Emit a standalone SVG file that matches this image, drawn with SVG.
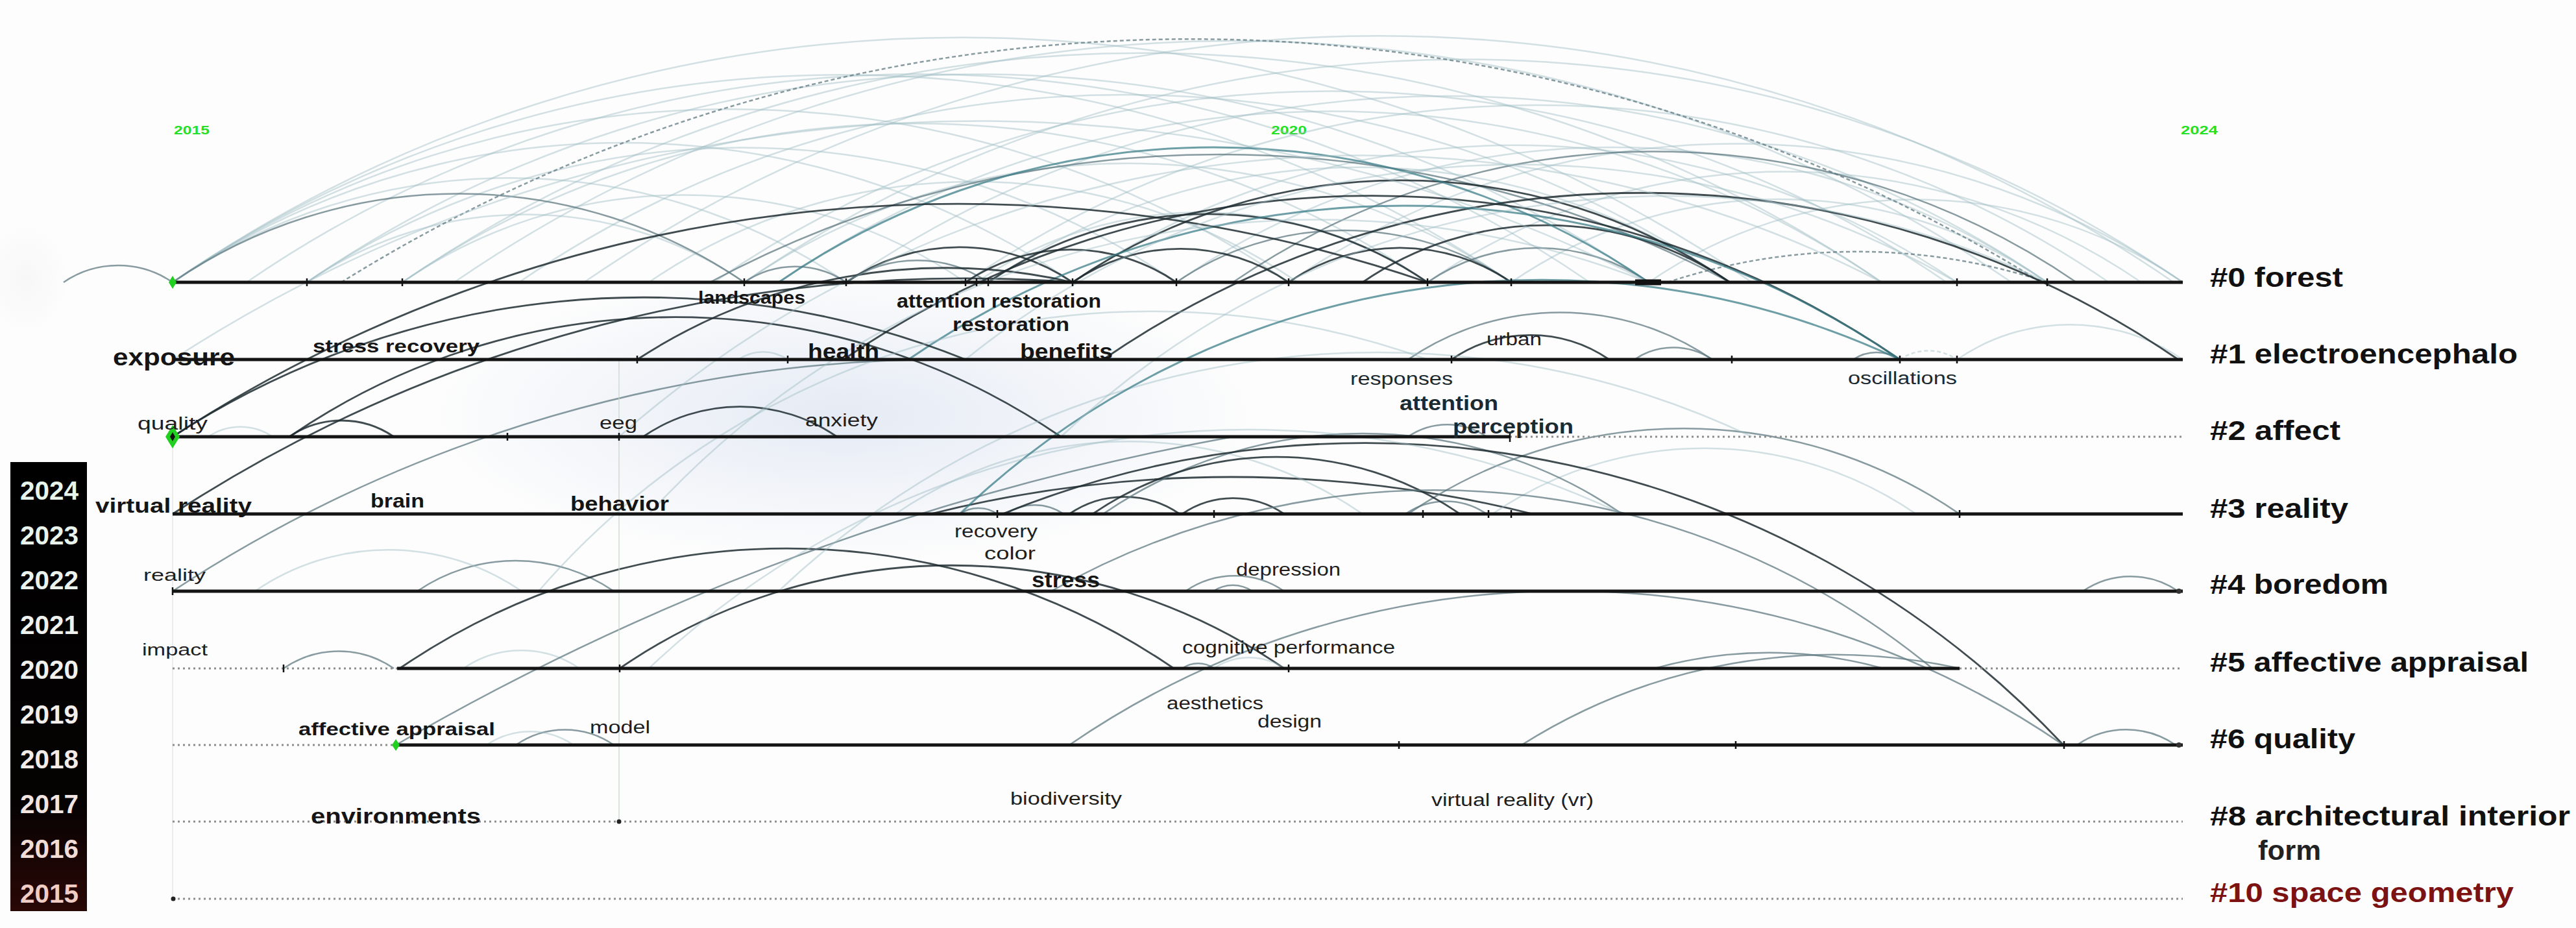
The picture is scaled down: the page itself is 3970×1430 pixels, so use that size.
<svg xmlns="http://www.w3.org/2000/svg" width="3970" height="1430" viewBox="0 0 3970 1430">
<defs>
<style>
text{font-family:"Liberation Sans",Arial,sans-serif}
.ln{stroke:#141414;stroke-width:5;fill:none}
.dt{stroke:#8e8e8e;stroke-width:3;stroke-dasharray:3 5;fill:none}
.tk{stroke:#111;stroke-width:2.5;fill:none}
.a1{fill:none;stroke:#9ebcc4;stroke-width:2.5;opacity:.45}
.a2{fill:none;stroke:#5f7a82;stroke-width:2.5;opacity:.75}
.a3{fill:none;stroke:#1f2d31;stroke-width:2.8;opacity:.85}
.a4{fill:none;stroke:#3d7f8a;stroke-width:3;opacity:.75}
.ds{stroke-dasharray:6 4}
.cl{font-size:42px;font-weight:bold;fill:#111}
.red{fill:#7d1212}
.frm{fill:#222}
.kb{font-weight:bold;fill:#151515}
.kr{fill:#1e1e1e}
.sl{fill:#1b2a31}
.yr{font-size:19px;font-weight:bold;fill:#25e025}
.lg{font-size:40px;font-weight:bold}
.gn{fill:#22d022}
</style>
<radialGradient id="haze" cx="0.5" cy="0.5" r="0.5">
<stop offset="0" stop-color="#dfe6f2" stop-opacity="0.8"/>
<stop offset="1" stop-color="#dfe6f2" stop-opacity="0"/>
</radialGradient>
<radialGradient id="glow" cx="0.5" cy="0.5" r="0.5">
<stop offset="0" stop-color="#ececec" stop-opacity="0.35"/>
<stop offset="1" stop-color="#ececec" stop-opacity="0"/>
</radialGradient>
<linearGradient id="lgbg" x1="0" y1="0" x2="0" y2="1">
<stop offset="0" stop-color="#000"/>
<stop offset="0.75" stop-color="#050202"/>
<stop offset="1" stop-color="#2a0806"/>
</linearGradient>
</defs>
<rect width="3970" height="1430" fill="#fdfdfd"/>
<ellipse cx="1300" cy="640" rx="650" ry="230" fill="url(#haze)"/>
<ellipse cx="40" cy="430" rx="70" ry="90" fill="url(#glow)"/>

<g id="years">
<text class="yr" x="268" y="207" textLength="55" lengthAdjust="spacingAndGlyphs">2015</text>
<text class="yr" x="1959" y="207" textLength="55" lengthAdjust="spacingAndGlyphs">2020</text>
<text class="yr" x="3361" y="207" textLength="57" lengthAdjust="spacingAndGlyphs">2024</text>
</g>

<g id="legend">
<rect x="16" y="712" width="118" height="692" fill="url(#lgbg)"/>
<text class="lg" x="31" y="770" fill="#e6f4ec" textLength="90" lengthAdjust="spacingAndGlyphs">2024</text>
<text class="lg" x="31" y="839" fill="#e8f3ec" textLength="90" lengthAdjust="spacingAndGlyphs">2023</text>
<text class="lg" x="31" y="908" fill="#ebf2ed" textLength="90" lengthAdjust="spacingAndGlyphs">2022</text>
<text class="lg" x="31" y="977" fill="#eef1ee" textLength="90" lengthAdjust="spacingAndGlyphs">2021</text>
<text class="lg" x="31" y="1046" fill="#f0f0ee" textLength="90" lengthAdjust="spacingAndGlyphs">2020</text>
<text class="lg" x="31" y="1115" fill="#f1eeec" textLength="90" lengthAdjust="spacingAndGlyphs">2019</text>
<text class="lg" x="31" y="1184" fill="#f2ebe8" textLength="90" lengthAdjust="spacingAndGlyphs">2018</text>
<text class="lg" x="31" y="1253" fill="#f2e5e1" textLength="90" lengthAdjust="spacingAndGlyphs">2017</text>
<text class="lg" x="31" y="1322" fill="#f2dcd6" textLength="90" lengthAdjust="spacingAndGlyphs">2016</text>
<text class="lg" x="31" y="1391" fill="#f0cdc4" textLength="90" lengthAdjust="spacingAndGlyphs">2015</text>
</g>

<g id="connectors">
<path class="a1" d="M266 435 A2152 2152 0 0 1 2700 435"/>
<path class="a1" d="M900 435 A2166 2166 0 0 1 3350 435"/>
<path class="a1" d="M620 435 A2016 2016 0 0 1 2900 435"/>
<path class="a1" d="M266 435 A1824 1824 0 0 1 2329 435"/>
<path class="a1" d="M1147 435 A1960 1960 0 0 1 3364 435"/>
<path class="a1" d="M473 435 A1828 1828 0 0 1 2541 435"/>
<path class="a1" d="M1304 435 A1636 1636 0 0 1 3155 435"/>
<path class="a1" d="M266 435 A1520 1520 0 0 1 1986 435"/>
<path class="a1" d="M1488 435 A1558 1558 0 0 1 3250 435"/>
<path class="a1" d="M620 435 A1397 1397 0 0 1 2200 435"/>
<path class="a1" d="M1653 435 A1205 1205 0 0 1 3016 435"/>
<path class="a1" d="M266 435 A1226 1226 0 0 1 1653 435"/>
<path class="a1" d="M473 435 A1185 1185 0 0 1 1813 435"/>
<path class="a1" d="M1986 435 A1218 1218 0 0 1 3364 435"/>
<path class="a1" d="M800 435 A1650 1650 0 0 1 2666 435"/>
<path class="a1" d="M2200 435 A972 972 0 0 1 3300 435"/>
<path class="a1" d="M266 435 A918 918 0 0 1 1304 435"/>
<path class="a1" d="M1147 435 A1045 1045 0 0 1 2329 435"/>
<path class="a1" d="M1523 435 A1010 1010 0 0 1 2666 435"/>
<path class="a1" d="M2541 435 A728 728 0 0 1 3364 435"/>
<path class="a1" d="M700 435 A2122 2122 0 0 1 3100 435"/>
<path class="a1" d="M1000 435 A884 884 0 0 1 2000 435"/>
<path class="a1" d="M380 435 A1830 1830 0 0 1 2450 435"/>
<path class="a1" d="M1200 435 A1503 1503 0 0 1 2900 435"/>
<path class="a1" d="M1813 435 A1186 1186 0 0 1 3155 435"/>
<path class="a1" d="M1505 435 A614 614 0 0 1 2200 435"/>
<path class="a1" d="M620 435 A767 767 0 0 1 1488 435"/>
<path class="a1" d="M473 435 A596 596 0 0 1 1147 435"/>
<path class="a1" d="M2329 435 A730 730 0 0 1 3155 435"/>
<path class="a1" d="M1100 435 A1680 1680 0 0 1 3000 435"/>
<path class="a2" d="M98 435 A149 149 0 0 1 266 435"/>
<path class="a2" d="M266 435 A779 779 0 0 1 1147 435"/>
<path class="a2" d="M1147 435 A139 139 0 0 1 1304 435"/>
<path class="a2 ds" d="M526 435 A2477 2477 0 0 1 3146 435"/>
<path class="a2" d="M1094 435 A1666 1666 0 0 1 2666 435"/>
<path class="a2 ds" d="M2570 435 A930 930 0 0 1 3155 435"/>
<path class="a2" d="M1813 435 A456 456 0 0 1 2329 435"/>
<path class="a2" d="M2200 435 A301 301 0 0 1 2541 435"/>
<path class="a2" d="M1304 435 A194 194 0 0 1 1523 435"/>
<path class="a2" d="M1900 435 A1149 1149 0 0 1 3200 435"/>
<path class="a3" d="M1653 435 A294 294 0 0 1 1986 435"/>
<path class="a3" d="M1986 435 A303 303 0 0 1 2329 435"/>
<path class="a3" d="M1523 435 A598 598 0 0 1 2200 435"/>
<path class="a3" d="M1488 435 A287 287 0 0 1 1813 435"/>
<path class="a3" d="M1653 435 A895 895 0 0 1 2666 435"/>
<path class="a3" d="M1304 435 A308 308 0 0 1 1653 435"/>
<path class="a3" d="M2100 435 A500 500 0 0 1 2666 435"/>
<path class="a4" d="M1200 435 A1185 1185 0 0 1 2541 435"/>

<path class="a3" d="M2237 554 A215 215 0 0 1 2480 554"/>
<path class="a2" d="M2519 554 A106 106 0 0 1 2639 554"/>
<path class="a2" d="M2856 554 A64 64 0 0 1 2928 554"/>
<path class="a1 ds" d="M2928 554 A78 78 0 0 1 3016 554"/>
<path class="a2" d="M2170 554 A415 415 0 0 1 2639 554"/>
<path class="a1" d="M1138 554 A67 67 0 0 1 1214 554"/>
<path class="a1" d="M3016 554 A308 308 0 0 1 3364 554"/>
<path class="a3" d="M1300 554 A1439 1439 0 0 1 2928 554"/>
<path class="a3" d="M1700 554 A1465 1465 0 0 1 3357 554"/>
<path class="a4" d="M1400 554 A1350 1350 0 0 1 2928 554"/>

<path class="a3" d="M446 673 A1051 1051 0 0 1 1635 673"/>
<path class="a3" d="M991 673 A264 264 0 0 1 1290 673"/>
<path class="a3" d="M446 673 A142 142 0 0 1 607 673"/>
<path class="a1" d="M321 673 A88 88 0 0 1 420 673"/>
<path class="a2" d="M2170 673 A107 107 0 0 1 2291 673"/>

<path class="a2" d="M1550 792 A79 79 0 0 1 1639 792"/>
<path class="a3" d="M1648 792 A150 150 0 0 1 1818 792"/>
<path class="a3" d="M1822 792 A139 139 0 0 1 1979 792"/>
<path class="a2" d="M1479 792 A51 51 0 0 1 1537 792"/>
<path class="a2" d="M2166 792 A110 110 0 0 1 2291 792"/>
<path class="a3" d="M1434 792 A1917 1917 0 0 1 2362 792"/>
<path class="a2" d="M2170 792 A751 751 0 0 1 3020 792"/>
<path class="a1" d="M2300 792 A577 577 0 0 1 2953 792"/>
<path class="a2" d="M1700 792 A707 707 0 0 1 2500 792"/>
<path class="a1" d="M1380 792 A636 636 0 0 1 2100 792"/>
<path class="a3" d="M1684 792 A500 500 0 0 1 2250 792"/>

<path class="a2" d="M643 911 A268 268 0 0 1 946 911"/>
<path class="a1" d="M393 911 A363 363 0 0 1 804 911"/>
<path class="a2" d="M3210 911 A130 130 0 0 1 3357 911"/>
<path class="a2" d="M1827 911 A134 134 0 0 1 1979 911"/>
<path class="a2" d="M1870 911 A53 53 0 0 1 1930 911"/>

<path class="a3" d="M616 1030 A1055 1055 0 0 1 1809 1030"/>
<path class="a3" d="M955 1030 A905 905 0 0 1 1979 1030"/>
<path class="a2" d="M437 1030 A150 150 0 0 1 607 1030"/>
<path class="a2" d="M1822 1030 A43 43 0 0 1 1871 1030"/>
<path class="a1" d="M1871 1030 A95 95 0 0 1 1979 1030"/>
<path class="a1" d="M714 1030 A158 158 0 0 1 893 1030"/>
<path class="a2" d="M2550 1030 A650 650 0 0 1 2902 1030"/>

<path class="a2" d="M795 1148 A133 133 0 0 1 946 1148"/>
<path class="a1" d="M750 1148 A118 118 0 0 1 884 1148"/>
<path class="a2" d="M3201 1148 A134 134 0 0 1 3353 1148"/>

<path class="a3" d="M266 673 A2223 2223 0 0 1 2200 435"/>
<path class="a3" d="M266 792 A2245 2245 0 0 1 1653 435"/>
<path class="a2" d="M266 911 A2180 2180 0 0 1 1488 554"/>
<path class="a1" d="M266 554 A2278 2278 0 0 1 2541 435"/>
<path class="a3" d="M266 673 A1334 1334 0 0 1 1488 554"/>
<path class="a3" d="M982 554 A873 873 0 0 1 1653 435"/>
<path class="a3" d="M1545 792 A1479 1479 0 0 1 3180 1148"/>
<path class="a2" d="M1620 911 A1205 1205 0 0 1 2978 1030"/>
<path class="a2" d="M610 1148 A4000 4000 0 0 1 1900 673"/>
<path class="a2" d="M1648 1148 A1354 1354 0 0 1 3180 1148"/>
<path class="a2" d="M2345 1148 A900 900 0 0 1 3020 1030"/>
<path class="a1" d="M830 911 A1252 1252 0 0 1 2200 554"/>
<path class="a1" d="M1000 792 A1398 1398 0 0 1 2541 435"/>
<path class="a1" d="M954 673 A1733 1733 0 0 1 2900 435"/>
<path class="a1" d="M1200 911 A1343 1343 0 0 1 2700 673"/>
<path class="a4" d="M1479 792 A1298 1298 0 0 1 2928 554"/>
<path class="a1" d="M1000 1030 A1343 1343 0 0 1 2500 792"/>
<path class="a1" d="M1635 673 A1360 1360 0 0 1 3155 435"/>
<path class="a1" d="M1488 554 A1355 1355 0 0 1 3016 435"/>
<path d="M954 554 V1266" stroke="#c6d6c6" stroke-width="2" opacity="0.6"/>
<path d="M266 673 V1385" stroke="#dddddd" stroke-width="2" opacity="0.5"/>
</g>

<g id="cluster-0">
<path class="ln" d="M266 435 H3364"/>
<path class="tk" d="M473 429v12M620 429v12M1147 429v12M1304 429v12M1488 429v12M1505 429v12M1523 429v12M1653 429v12M1813 429v12M1986 429v12M2200 429v12M2329 429v12M3016 429v12M3155 429v12"/>
<path d="M2520 435 H2560" stroke="#111" stroke-width="9"/>
<polygon class="gn" points="266,425 272,435 266,445 260,435"/>
<text class="cl" x="3406" y="442" textLength="205" lengthAdjust="spacingAndGlyphs">#0 forest</text>
</g>

<g id="cluster-1">
<path class="ln" d="M266 554 H3364"/>
<path class="tk" d="M982 548v12M1214 548v12M2237 548v12M2669 548v12M2928 548v12M3016 548v12"/>
<text class="cl" x="3406" y="560" textLength="474" lengthAdjust="spacingAndGlyphs">#1 electroencephalo</text>
<text class="kb" font-size="28" x="1076" y="468" textLength="165" lengthAdjust="spacingAndGlyphs">landscapes</text>
<text class="kb" font-size="29" x="1382" y="474" textLength="315" lengthAdjust="spacingAndGlyphs">attention restoration</text>
<text class="kb" font-size="29" x="1468" y="510" textLength="180" lengthAdjust="spacingAndGlyphs">restoration</text>
<text class="kb" font-size="28" x="482" y="543" textLength="257" lengthAdjust="spacingAndGlyphs">stress recovery</text>
<text class="kb" font-size="37" x="174" y="563" textLength="188" lengthAdjust="spacingAndGlyphs">exposure</text>
<text class="kb" font-size="33" x="1245" y="553" textLength="110" lengthAdjust="spacingAndGlyphs">health</text>
<text class="kb" font-size="33" x="1572" y="553" textLength="143" lengthAdjust="spacingAndGlyphs">benefits</text>
<text class="kr" font-size="27" x="2291" y="532" textLength="85" lengthAdjust="spacingAndGlyphs">urban</text>
<text class="sl" font-size="28" x="2081" y="593" textLength="158" lengthAdjust="spacingAndGlyphs">responses</text>
<text class="sl" font-size="27" x="2848" y="592" textLength="168" lengthAdjust="spacingAndGlyphs">oscillations</text>
</g>

<g id="cluster-2">
<path class="ln" d="M266 673 H2327"/>
<path class="dt" d="M2327 673 H3364"/>
<path class="tk" d="M782 667v12M954 667v12M2327 665v16"/>
<polygon class="gn" points="266,655 277,673 266,691 255,673"/>
<polygon points="266,666 270,673 266,680 262,673" fill="#111"/>
<text class="cl" x="3406" y="678" textLength="201" lengthAdjust="spacingAndGlyphs">#2 affect</text>
<text class="kr" font-size="27" x="212" y="662" textLength="108" lengthAdjust="spacingAndGlyphs">quality</text>
<text class="kr" font-size="27" x="924" y="661" textLength="58" lengthAdjust="spacingAndGlyphs">eeg</text>
<text class="kr" font-size="27" x="1241" y="657" textLength="112" lengthAdjust="spacingAndGlyphs">anxiety</text>
<text class="sl" font-size="32" font-weight="bold" x="2157" y="632" textLength="152" lengthAdjust="spacingAndGlyphs">attention</text>
<text class="sl" font-size="32" font-weight="bold" x="2239" y="668" textLength="186" lengthAdjust="spacingAndGlyphs">perception</text>
</g>

<g id="cluster-3">
<path class="ln" d="M266 792 H3364"/>
<path class="tk" d="M1537 786v12M1871 786v12M2193 786v12M2294 786v12M2329 786v12M3020 786v12"/>
<text class="cl" x="3406" y="798" textLength="213" lengthAdjust="spacingAndGlyphs">#3 reality</text>
<text class="kb" font-size="31" x="147" y="790" textLength="241" lengthAdjust="spacingAndGlyphs">virtual reality</text>
<text class="kb" font-size="30" x="571" y="782" textLength="83" lengthAdjust="spacingAndGlyphs">brain</text>
<text class="kb" font-size="32" x="879" y="787" textLength="152" lengthAdjust="spacingAndGlyphs">behavior</text>
<text class="kr" font-size="27" x="1471" y="828" textLength="128" lengthAdjust="spacingAndGlyphs">recovery</text>
<text class="kr" font-size="27" x="1517" y="862" textLength="79" lengthAdjust="spacingAndGlyphs">color</text>
</g>

<g id="cluster-4">
<path class="ln" d="M266 911 H3364"/>
<path class="tk" d="M266 905v12"/>
<circle cx="3358" cy="911" r="4" fill="#333"/>
<text class="cl" x="3406" y="915" textLength="275" lengthAdjust="spacingAndGlyphs">#4 boredom</text>
<text class="kr" font-size="26" x="221" y="895" textLength="96" lengthAdjust="spacingAndGlyphs">reality</text>
<text class="kb" font-size="33" x="1590" y="905" textLength="105" lengthAdjust="spacingAndGlyphs">stress</text>
<text class="kr" font-size="27" x="1905" y="887" textLength="161" lengthAdjust="spacingAndGlyphs">depression</text>
</g>

<g id="cluster-5">
<path class="dt" d="M266 1030 H612"/>
<path class="ln" d="M612 1030 H3020"/>
<path class="dt" d="M3020 1030 H3364"/>
<path class="tk" d="M437 1024v12M955 1024v12M1986 1024v12"/>
<text class="cl" x="3406" y="1035" textLength="491" lengthAdjust="spacingAndGlyphs">#5 affective appraisal</text>
<text class="kr" font-size="26" x="219" y="1010" textLength="101" lengthAdjust="spacingAndGlyphs">impact</text>
<text class="kr" font-size="27" x="1822" y="1007" textLength="328" lengthAdjust="spacingAndGlyphs">cognitive performance</text>
</g>

<g id="cluster-6">
<path class="dt" d="M266 1148 H610"/>
<path class="ln" d="M610 1148 H3364"/>
<path class="tk" d="M2156 1142v12M2675 1142v12M3181 1142v12"/>
<circle cx="3358" cy="1148" r="4" fill="#333"/>
<polygon class="gn" points="610,1139 616,1148 610,1157 604,1148"/>
<text class="cl" x="3406" y="1153" textLength="224" lengthAdjust="spacingAndGlyphs">#6 quality</text>
<text class="kb" font-size="28" x="460" y="1133" textLength="303" lengthAdjust="spacingAndGlyphs">affective appraisal</text>
<text class="kr" font-size="27" x="909" y="1130" textLength="93" lengthAdjust="spacingAndGlyphs">model</text>
<text class="kr" font-size="27" x="1798" y="1093" textLength="149" lengthAdjust="spacingAndGlyphs">aesthetics</text>
<text class="kr" font-size="27" x="1938" y="1121" textLength="99" lengthAdjust="spacingAndGlyphs">design</text>
</g>

<g id="cluster-8">
<path class="dt" d="M266 1266 H3364"/>
<circle cx="954" cy="1266" r="3.5" fill="#222"/>
<text class="cl" x="3406" y="1272" textLength="555" lengthAdjust="spacingAndGlyphs">#8 architectural interior</text>
<text class="cl frm" x="3480" y="1325" textLength="97" lengthAdjust="spacingAndGlyphs">form</text>
<text class="kb" font-size="33" x="479" y="1269" textLength="262" lengthAdjust="spacingAndGlyphs">environments</text>
<text class="kr" font-size="27" x="1557" y="1240" textLength="172" lengthAdjust="spacingAndGlyphs">biodiversity</text>
<text class="kr" font-size="27" x="2206" y="1242" textLength="250" lengthAdjust="spacingAndGlyphs">virtual reality (vr)</text>
</g>

<g id="cluster-10">
<path class="dt" d="M266 1385 H3364"/>
<circle cx="267" cy="1385" r="3.5" fill="#222"/>
<text class="cl red" x="3406" y="1390" textLength="468" lengthAdjust="spacingAndGlyphs">#10 space geometry</text>
</g>
</svg>
